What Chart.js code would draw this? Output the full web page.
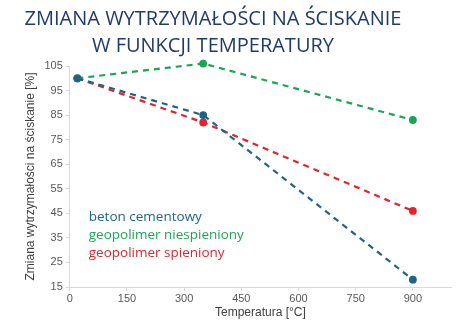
<!DOCTYPE html>
<html>
<head>
<meta charset="utf-8">
<script src="https://cdn.jsdelivr.net/npm/chart.js@4.4.1/dist/chart.umd.min.js"></script>
<style>
  html, body { margin: 0; padding: 0; background: #fff; }
  #wrap { position: relative; width: 461px; height: 325px; }
  #title {
    position: absolute; left: 0; top: 4px; width: 426px;
    text-align: center; font-family: "Open Sans", sans-serif;
    font-size: 20px; line-height: 27px; color: #1f3a6e;
  }
  #myChart { position: absolute; left: 0; top: 0; }
</style>
</head>
<body>
<div id="wrap">
  <canvas id="myChart" width="461" height="325"></canvas>
  <div id="title">ZMIANA WYTRZYMAŁOŚCI NA ŚCISKANIE<br>W FUNKCJI TEMPERATURY</div>
</div>
<script>
var temperatures = [20, 350, 900];
var betonCementowy = [100, 85, 18];
var geopolimerNiespieniony = [100, 106, 83];
var geopolimerSpieniony = [100, 82, 46];
var xTickValues = [0, 150, 300, 450, 600, 750, 900];

var seriesNames = ['beton cementowy', 'geopolimer niespieniony', 'geopolimer spieniony'];
var seriesColors = ['#1f6485', '#1aa653', '#e8212b'];

function toPoints(values) {
  return temperatures.map(function(t, i) { return { x: t, y: values[i] }; });
}

// labels written inside the plot instead of a boxed legend
var textLegend = {
  id: 'textLegend',
  afterDatasetsDraw: function(chart) {
    var ctx = chart.ctx;
    var left = chart.chartArea.left + 19;
    var yScale = chart.scales.y;
    ctx.save();
    ctx.font = '13.5px "Open Sans", sans-serif';
    ctx.textBaseline = 'middle';
    chart.data.datasets.forEach(function(ds, i) {
      ctx.fillStyle = ds.borderColor;
      ctx.fillText(ds.label, left, yScale.getPixelForValue(43.5) + i * 18);
    });
    ctx.restore();
  }
};

var ctx = document.getElementById('myChart').getContext('2d');
var datasets = [betonCementowy, geopolimerNiespieniony, geopolimerSpieniony].map(function(values, i) {
  return {
    label: seriesNames[i],
    data: toPoints(values),
    borderColor: seriesColors[i],
    backgroundColor: seriesColors[i],
    borderWidth: 2.2,
    borderDash: [6, 5],
    pointRadius: 2.8,
    pointHoverRadius: 2.8,
    clip: false
  };
});

var chart = new Chart(ctx, {
  type: 'line',
  data: { datasets: datasets },
  plugins: [textLegend],
  options: {
    responsive: false,
    animation: false,
    layout: { padding: { top: 66, right: 10, left: 19, bottom: 0 } },
    plugins: {
      legend: { display: false },
      tooltip: { enabled: false }
    },
    scales: {
      x: {
        type: 'linear',
        min: 0,
        max: 1000,
        afterBuildTicks: function(axis) {
          axis.ticks = xTickValues.map(function(v) { return { value: v }; });
        },
        afterFit: function(axis) { axis.height = 38; },
        ticks: { color: '#595959', font: { family: 'Liberation Sans', size: 11 }, padding: 1 },
        grid: { drawOnChartArea: false, tickLength: 4, color: '#d9d9d9' },
        border: { color: '#d9d9d9' },
        title: { display: true, text: 'Temperatura [°C]', color: '#404040', font: { family: 'Liberation Sans', size: 12 }, padding: { top: 0, bottom: 5 } }
      },
      y: {
        min: 15,
        max: 105,
        ticks: { stepSize: 10, color: '#595959', font: { family: 'Liberation Sans', size: 11 }, padding: 3 },
        grid: { drawOnChartArea: false, tickLength: 4, color: '#d9d9d9' },
        border: { color: '#d9d9d9' },
        title: { display: true, text: 'Zmiana wytrzymałości na ściskanie [%]', color: '#404040', font: { family: 'Liberation Sans', size: 12 }, padding: { bottom: 4 } }
      }
    }
  }
});
</script>
</body>
</html>
